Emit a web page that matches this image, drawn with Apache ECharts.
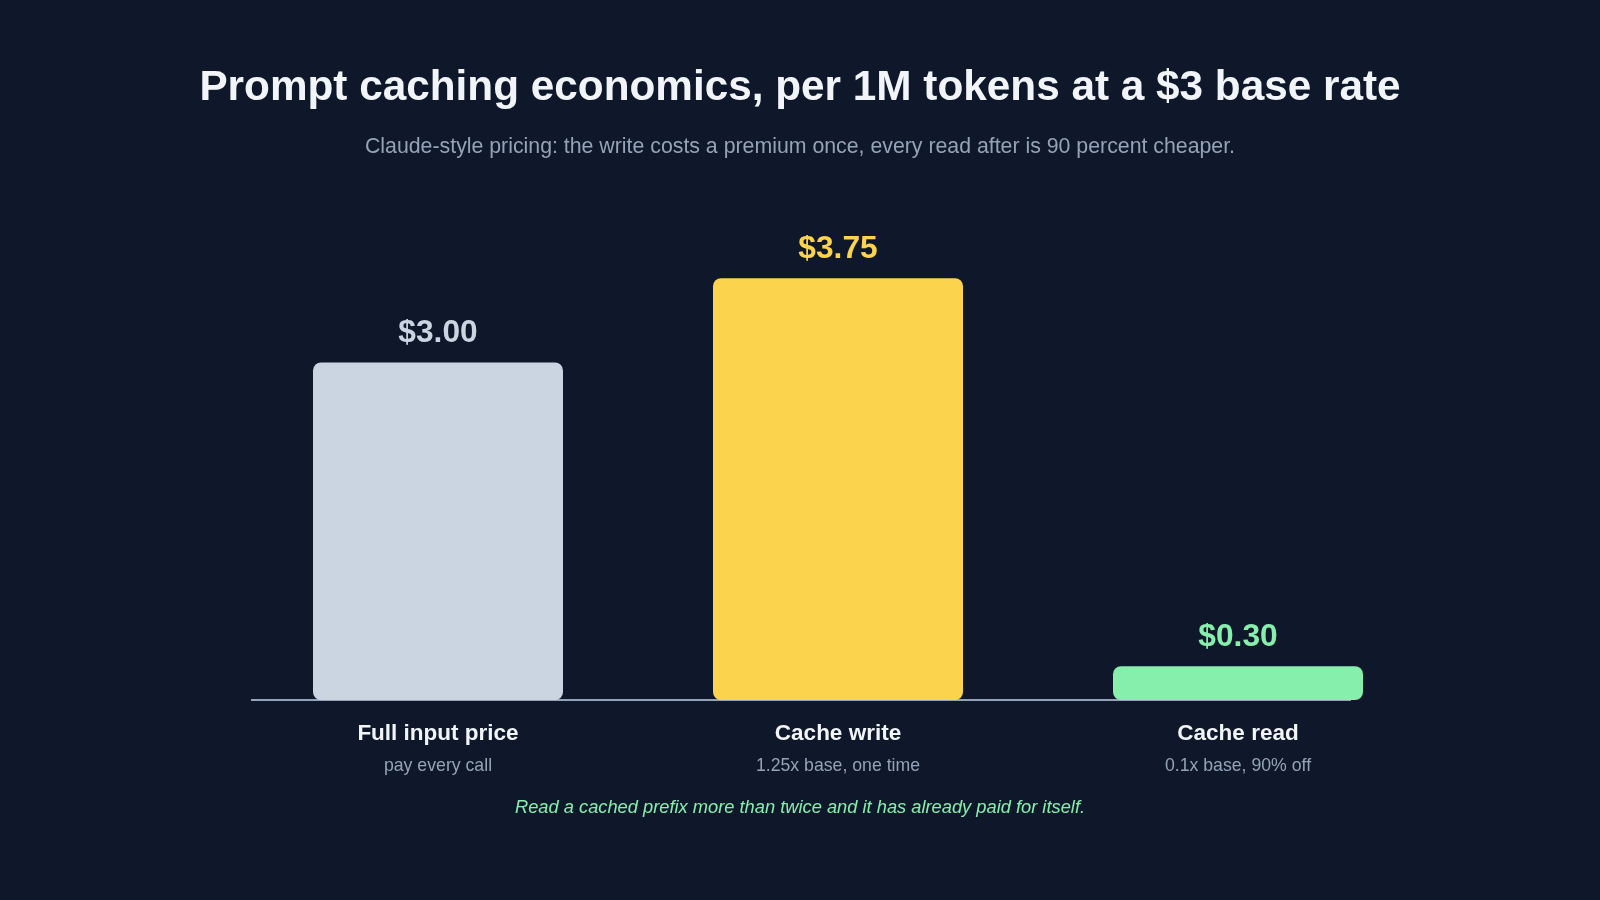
<!DOCTYPE html>
<html>
<head>
<meta charset="utf-8">
<title>Prompt caching economics</title>
<script src="https://cdn.jsdelivr.net/npm/echarts@6/dist/echarts.min.js"></script>
<style>
  html, body { margin: 0; padding: 0; background: #0f172a; }
  #chart { width: 1600px; height: 900px; }
</style>
</head>
<body>
<div id="chart"></div>
<script>
// data
const categories = ['Full input price', 'Cache write', 'Cache read'];
const subLabels = ['pay every call', '1.25x base, one time', '0.1x base, 90% off'];
const prices = [3.00, 3.75, 0.30];

// palette
const barColors = ['#cbd5e1', '#fcd34d', '#86efac'];
const font = '"Liberation Sans", Arial, Helvetica, sans-serif';

const chart = echarts.init(document.getElementById('chart'));
window.addEventListener('resize', function () {
    chart.resize();
});

const option = {
    backgroundColor: '#0f172a',
    textStyle: { fontFamily: font },
    title: [
        {
            text: 'Prompt caching economics, per 1M tokens at a $3 base rate',
            left: 'center',
            top: 62,
            textStyle: { fontSize: 42.3, fontWeight: 'bold', color: '#f1f5f9', fontFamily: font }
        },
        {
            text: 'Claude-style pricing: the write costs a premium once, every read after is 90 percent cheaper.',
            left: 'center',
            top: 132,
            textStyle: { fontSize: 21.3, fontWeight: 'normal', color: '#94a3b8', fontFamily: font }
        },
        {
            text: 'Read a cached prefix more than twice and it has already paid for itself.',
            left: 'center',
            top: 794,
            textStyle: { fontSize: 18.3, fontWeight: 'normal', fontStyle: 'italic', color: '#86efac', fontFamily: font }
        }
    ],
    grid: { left: 238, right: 162, top: 250, bottom: 200 },
    xAxis: {
        type: 'category',
        data: categories,
        axisLine: { show: false },
        axisTick: { show: false },
        axisLabel: {
            margin: 18,
            interval: 0,
            formatter: function (value, idx) {
                return '{a|' + value + '}\n{b|' + subLabels[idx] + '}';
            },
            rich: {
                a: { fontSize: 22.5, fontWeight: 'bold', color: '#f1f5f9', lineHeight: 32, fontFamily: font },
                b: { fontSize: 17.7, color: '#94a3b8', lineHeight: 32, fontFamily: font }
            }
        }
    },
    yAxis: {
        type: 'value',
        min: 0,
        max: 4,
        show: false,
        splitLine: { show: false }
    },
    graphic: [
        {
            type: 'line',
            z: 0,
            shape: { x1: 251, y1: 700, x2: 1351, y2: 700 },
            style: { stroke: '#94a3b8', lineWidth: 2 }
        }
    ],
    series: [{
        type: 'bar',
        barWidth: 250,
        z: 5,
        data: prices.map(function (v, i) {
            return {
                value: v,
                itemStyle: { color: barColors[i], borderRadius: 8 },
                label: { color: barColors[i] }
            };
        }),
        label: {
            show: true,
            position: 'top',
            distance: 13,
            fontSize: 31.7,
            fontWeight: 'bold',
            fontFamily: font,
            formatter: function (p) {
                return '$' + p.value.toFixed(2);
            }
        }
    }]
};

chart.setOption(option);
</script>
</body>
</html>
